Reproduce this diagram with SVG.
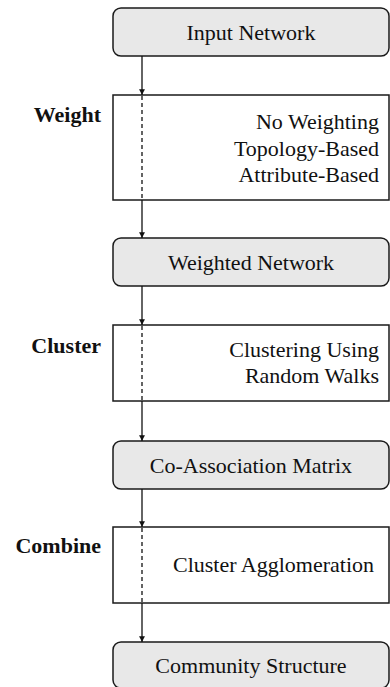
<svg xmlns="http://www.w3.org/2000/svg" width="390" height="687" viewBox="0 0 390 687">
<style>
.rb{fill:#e8e8e8;stroke:#1a1a1a;stroke-width:1.5}
.sb{fill:#ffffff;stroke:#1a1a1a;stroke-width:1.5}
.t{font-family:"Liberation Serif","Times New Roman",serif;font-size:22px;fill:#111}
.c{text-anchor:middle}
.r{text-anchor:end}
.lb{font-family:"Liberation Serif","Times New Roman",serif;font-size:22px;font-weight:bold;fill:#111;text-anchor:end}
.ln{stroke:#111;stroke-width:1.3;fill:none}
.d{stroke:#111;stroke-width:1.3;fill:none;stroke-dasharray:4 3}
</style>
<defs>
<marker id="ah" viewBox="0 0 10 10" refX="10" refY="5" markerWidth="4.5" markerHeight="4.5" orient="auto" markerUnits="strokeWidth">
<path d="M0,0 L10,5 L0,10 z" fill="#111"/>
</marker>
</defs>
<g id="input-network"><rect class="rb" x="113" y="8" width="276" height="48" rx="8"/><text class="t c" x="251" y="40">Input Network</text></g>
<g id="weight"><rect class="sb" x="113" y="95" width="276" height="105"/><text class="lb" x="101" y="122">Weight</text><text class="t r" x="379" y="129">No Weighting</text><text class="t r" x="379" y="156">Topology-Based</text><text class="t r" x="379" y="182">Attribute-Based</text></g>
<g id="weighted-network"><rect class="rb" x="113" y="238" width="276" height="48" rx="8"/><text class="t c" x="251" y="270">Weighted Network</text></g>
<g id="cluster"><rect class="sb" x="113" y="325" width="276" height="76"/><text class="lb" x="101" y="353">Cluster</text><text class="t r" x="379" y="357">Clustering Using</text><text class="t r" x="379" y="383">Random Walks</text></g>
<g id="co-association"><rect class="rb" x="113" y="441" width="276" height="48" rx="8"/><text class="t c" x="251" y="473">Co-Association Matrix</text></g>
<g id="combine"><rect class="sb" x="113" y="527" width="276" height="76"/><text class="lb" x="101" y="553">Combine</text><text class="t r" x="374" y="572">Cluster Agglomeration</text></g>
<g id="community-structure"><rect class="rb" x="113" y="642" width="276" height="46" rx="8"/><text class="t c" x="251" y="673">Community Structure</text></g>
<g id="connectors">
<line class="ln" x1="142" y1="56" x2="142" y2="95" marker-end="url(#ah)"/>
<line class="d" x1="142" y1="96" x2="142" y2="200"/>
<line class="ln" x1="142" y1="200" x2="142" y2="238" marker-end="url(#ah)"/>
<line class="ln" x1="142" y1="286" x2="142" y2="325" marker-end="url(#ah)"/>
<line class="d" x1="142" y1="326" x2="142" y2="401"/>
<line class="ln" x1="142" y1="401" x2="142" y2="441" marker-end="url(#ah)"/>
<line class="ln" x1="142" y1="489" x2="142" y2="527" marker-end="url(#ah)"/>
<line class="d" x1="142" y1="528" x2="142" y2="603"/>
<line class="ln" x1="142" y1="603" x2="142" y2="642" marker-end="url(#ah)"/>
</g>
</svg>
